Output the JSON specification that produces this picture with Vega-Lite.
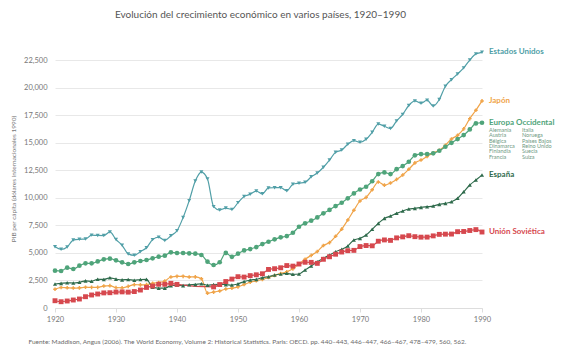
{
"$schema": "https://vega.github.io/schema/vega-lite/v6.json",
"width": 427, "height": 259,
"autosize": {"type": "none"},
"padding": {"left": 55, "top": 49, "right": 80, "bottom": 44},
"background": "white",
"config": {"view": {"stroke": null}, "font": "Lato"},
"title": {"text": "Evolución del crecimiento económico en varios países, 1920–1990", "fontSize": 10, "fontWeight": "normal", "color": "#555555", "offset": 28, "dx": -8, "font": "Lato"},
"datasets": {
"names": [{"c": "US", "name": "Estados Unidos"}, {"c": "JP", "name": "Japón"}, {"c": "EU", "name": "Europa Occidental"}, {"c": "ES", "name": "España"}, {"c": "SU", "name": "Unión Soviética"}],
"gdp": [
{"c":"US","t":1920,"v":5552},{"c":"US","t":1921,"v":5323},{"c":"US","t":1922,"v":5540},{"c":"US","t":1923,"v":6164},{"c":"US","t":1924,"v":6233},{"c":"US","t":1925,"v":6252},{"c":"US","t":1926,"v":6612},{"c":"US","t":1927,"v":6581},{"c":"US","t":1928,"v":6570},{"c":"US","t":1929,"v":6899},
{"c":"US","t":1930,"v":6213},{"c":"US","t":1931,"v":5691},{"c":"US","t":1932,"v":4908},{"c":"US","t":1933,"v":4777},{"c":"US","t":1934,"v":5114},{"c":"US","t":1935,"v":5467},{"c":"US","t":1936,"v":6204},{"c":"US","t":1937,"v":6430},{"c":"US","t":1938,"v":6126},{"c":"US","t":1939,"v":6561},
{"c":"US","t":1940,"v":7010},{"c":"US","t":1941,"v":8206},{"c":"US","t":1942,"v":9741},{"c":"US","t":1943,"v":11518},{"c":"US","t":1944,"v":12333},{"c":"US","t":1945,"v":11709},{"c":"US","t":1946,"v":9197},{"c":"US","t":1947,"v":8886},{"c":"US","t":1948,"v":9065},{"c":"US","t":1949,"v":8944},
{"c":"US","t":1950,"v":9561},{"c":"US","t":1951,"v":10116},{"c":"US","t":1952,"v":10316},{"c":"US","t":1953,"v":10613},{"c":"US","t":1954,"v":10359},{"c":"US","t":1955,"v":10897},{"c":"US","t":1956,"v":10914},{"c":"US","t":1957,"v":10920},{"c":"US","t":1958,"v":10631},{"c":"US","t":1959,"v":11230},
{"c":"US","t":1960,"v":11328},{"c":"US","t":1961,"v":11402},{"c":"US","t":1962,"v":11905},{"c":"US","t":1963,"v":12242},{"c":"US","t":1964,"v":12773},{"c":"US","t":1965,"v":13419},{"c":"US","t":1966,"v":14134},{"c":"US","t":1967,"v":14330},{"c":"US","t":1968,"v":14863},{"c":"US","t":1969,"v":15179},
{"c":"US","t":1970,"v":15030},{"c":"US","t":1971,"v":15304},{"c":"US","t":1972,"v":15944},{"c":"US","t":1973,"v":16689},{"c":"US","t":1974,"v":16491},{"c":"US","t":1975,"v":16284},{"c":"US","t":1976,"v":16975},{"c":"US","t":1977,"v":17567},{"c":"US","t":1978,"v":18373},{"c":"US","t":1979,"v":18789},
{"c":"US","t":1980,"v":18577},{"c":"US","t":1981,"v":18856},{"c":"US","t":1982,"v":18325},{"c":"US","t":1983,"v":18920},{"c":"US","t":1984,"v":20123},{"c":"US","t":1985,"v":20717},{"c":"US","t":1986,"v":21236},{"c":"US","t":1987,"v":21788},{"c":"US","t":1988,"v":22499},{"c":"US","t":1989,"v":23059},{"c":"US","t":1990,"v":23201},
{"c":"JP","t":1920,"v":1696},{"c":"JP","t":1921,"v":1860},{"c":"JP","t":1922,"v":1831},{"c":"JP","t":1923,"v":1809},{"c":"JP","t":1924,"v":1829},{"c":"JP","t":1925,"v":1885},{"c":"JP","t":1926,"v":1872},{"c":"JP","t":1927,"v":1870},{"c":"JP","t":1928,"v":1991},{"c":"JP","t":1929,"v":2026},
{"c":"JP","t":1930,"v":1850},{"c":"JP","t":1931,"v":1837},{"c":"JP","t":1932,"v":1962},{"c":"JP","t":1933,"v":2122},{"c":"JP","t":1934,"v":2098},{"c":"JP","t":1935,"v":2120},{"c":"JP","t":1936,"v":2244},{"c":"JP","t":1937,"v":2315},{"c":"JP","t":1938,"v":2449},{"c":"JP","t":1939,"v":2816},
{"c":"JP","t":1940,"v":2874},{"c":"JP","t":1941,"v":2873},{"c":"JP","t":1942,"v":2818},{"c":"JP","t":1943,"v":2822},{"c":"JP","t":1944,"v":2659},{"c":"JP","t":1945,"v":1346},{"c":"JP","t":1946,"v":1444},{"c":"JP","t":1947,"v":1541},{"c":"JP","t":1948,"v":1725},{"c":"JP","t":1949,"v":1800},
{"c":"JP","t":1950,"v":1921},{"c":"JP","t":1951,"v":2126},{"c":"JP","t":1952,"v":2336},{"c":"JP","t":1953,"v":2474},{"c":"JP","t":1954,"v":2582},{"c":"JP","t":1955,"v":2771},{"c":"JP","t":1956,"v":2948},{"c":"JP","t":1957,"v":3136},{"c":"JP","t":1958,"v":3289},{"c":"JP","t":1959,"v":3554},
{"c":"JP","t":1960,"v":3986},{"c":"JP","t":1961,"v":4426},{"c":"JP","t":1962,"v":4777},{"c":"JP","t":1963,"v":5129},{"c":"JP","t":1964,"v":5668},{"c":"JP","t":1965,"v":5934},{"c":"JP","t":1966,"v":6506},{"c":"JP","t":1967,"v":7152},{"c":"JP","t":1968,"v":7983},{"c":"JP","t":1969,"v":8874},
{"c":"JP","t":1970,"v":9714},{"c":"JP","t":1971,"v":10040},{"c":"JP","t":1972,"v":10734},{"c":"JP","t":1973,"v":11434},{"c":"JP","t":1974,"v":11145},{"c":"JP","t":1975,"v":11344},{"c":"JP","t":1976,"v":11669},{"c":"JP","t":1977,"v":12064},{"c":"JP","t":1978,"v":12585},{"c":"JP","t":1979,"v":13163},
{"c":"JP","t":1980,"v":13428},{"c":"JP","t":1981,"v":13754},{"c":"JP","t":1982,"v":14078},{"c":"JP","t":1983,"v":14307},{"c":"JP","t":1984,"v":14773},{"c":"JP","t":1985,"v":15331},{"c":"JP","t":1986,"v":15679},{"c":"JP","t":1987,"v":16251},{"c":"JP","t":1988,"v":17185},{"c":"JP","t":1989,"v":17943},{"c":"JP","t":1990,"v":18789},
{"c":"EU","t":1920,"v":3385},{"c":"EU","t":1921,"v":3355},{"c":"EU","t":1922,"v":3660},{"c":"EU","t":1923,"v":3540},{"c":"EU","t":1924,"v":3840},{"c":"EU","t":1925,"v":4050},{"c":"EU","t":1926,"v":4050},{"c":"EU","t":1927,"v":4230},{"c":"EU","t":1928,"v":4415},{"c":"EU","t":1929,"v":4475},
{"c":"EU","t":1930,"v":4325},{"c":"EU","t":1931,"v":4140},{"c":"EU","t":1932,"v":3990},{"c":"EU","t":1933,"v":4140},{"c":"EU","t":1934,"v":4265},{"c":"EU","t":1935,"v":4355},{"c":"EU","t":1936,"v":4505},{"c":"EU","t":1937,"v":4655},{"c":"EU","t":1938,"v":4745},{"c":"EU","t":1939,"v":5050},
{"c":"EU","t":1940,"v":4990},{"c":"EU","t":1941,"v":4990},{"c":"EU","t":1942,"v":4960},{"c":"EU","t":1943,"v":4930},{"c":"EU","t":1944,"v":4810},{"c":"EU","t":1945,"v":4200},{"c":"EU","t":1946,"v":3900},{"c":"EU","t":1947,"v":4150},{"c":"EU","t":1948,"v":5000},{"c":"EU","t":1949,"v":4640},
{"c":"EU","t":1950,"v":4930},{"c":"EU","t":1951,"v":5220},{"c":"EU","t":1952,"v":5350},{"c":"EU","t":1953,"v":5530},{"c":"EU","t":1954,"v":5800},{"c":"EU","t":1955,"v":6010},{"c":"EU","t":1956,"v":6230},{"c":"EU","t":1957,"v":6410},{"c":"EU","t":1958,"v":6530},{"c":"EU","t":1959,"v":6830},
{"c":"EU","t":1960,"v":7370},{"c":"EU","t":1961,"v":7680},{"c":"EU","t":1962,"v":7920},{"c":"EU","t":1963,"v":8220},{"c":"EU","t":1964,"v":8590},{"c":"EU","t":1965,"v":8900},{"c":"EU","t":1966,"v":9250},{"c":"EU","t":1967,"v":9550},{"c":"EU","t":1968,"v":9950},{"c":"EU","t":1969,"v":10400},
{"c":"EU","t":1970,"v":10750},{"c":"EU","t":1971,"v":11000},{"c":"EU","t":1972,"v":11500},{"c":"EU","t":1973,"v":12150},{"c":"EU","t":1974,"v":12300},{"c":"EU","t":1975,"v":12150},{"c":"EU","t":1976,"v":12600},{"c":"EU","t":1977,"v":12880},{"c":"EU","t":1978,"v":13270},{"c":"EU","t":1979,"v":13850},
{"c":"EU","t":1980,"v":13970},{"c":"EU","t":1981,"v":13970},{"c":"EU","t":1982,"v":14030},{"c":"EU","t":1983,"v":14270},{"c":"EU","t":1984,"v":14630},{"c":"EU","t":1985,"v":14990},{"c":"EU","t":1986,"v":15330},{"c":"EU","t":1987,"v":15690},{"c":"EU","t":1988,"v":16200},{"c":"EU","t":1989,"v":16750},{"c":"EU","t":1990,"v":16810},
{"c":"ES","t":1920,"v":2177},{"c":"ES","t":1921,"v":2237},{"c":"ES","t":1922,"v":2285},{"c":"ES","t":1923,"v":2267},{"c":"ES","t":1924,"v":2334},{"c":"ES","t":1925,"v":2462},{"c":"ES","t":1926,"v":2420},{"c":"ES","t":1927,"v":2607},{"c":"ES","t":1928,"v":2591},{"c":"ES","t":1929,"v":2739},
{"c":"ES","t":1930,"v":2620},{"c":"ES","t":1931,"v":2554},{"c":"ES","t":1932,"v":2582},{"c":"ES","t":1933,"v":2510},{"c":"ES","t":1934,"v":2584},{"c":"ES","t":1935,"v":2600},{"c":"ES","t":1936,"v":1890},{"c":"ES","t":1937,"v":1800},{"c":"ES","t":1938,"v":1800},{"c":"ES","t":1939,"v":2030},
{"c":"ES","t":1940,"v":2080},{"c":"ES","t":1941,"v":2030},{"c":"ES","t":1942,"v":2110},{"c":"ES","t":1943,"v":2140},{"c":"ES","t":1944,"v":2200},{"c":"ES","t":1945,"v":2060},{"c":"ES","t":1946,"v":2120},{"c":"ES","t":1947,"v":2150},{"c":"ES","t":1948,"v":2120},{"c":"ES","t":1949,"v":2080},
{"c":"ES","t":1950,"v":2190},{"c":"ES","t":1951,"v":2400},{"c":"ES","t":1952,"v":2540},{"c":"ES","t":1953,"v":2600},{"c":"ES","t":1954,"v":2750},{"c":"ES","t":1955,"v":2840},{"c":"ES","t":1956,"v":2990},{"c":"ES","t":1957,"v":3085},{"c":"ES","t":1958,"v":3145},{"c":"ES","t":1959,"v":3055},
{"c":"ES","t":1960,"v":3085},{"c":"ES","t":1961,"v":3450},{"c":"ES","t":1962,"v":3810},{"c":"ES","t":1963,"v":4200},{"c":"ES","t":1964,"v":4505},{"c":"ES","t":1965,"v":4810},{"c":"ES","t":1966,"v":5110},{"c":"ES","t":1967,"v":5320},{"c":"ES","t":1968,"v":5625},{"c":"ES","t":1969,"v":6170},
{"c":"ES","t":1970,"v":6320},{"c":"ES","t":1971,"v":6620},{"c":"ES","t":1972,"v":7140},{"c":"ES","t":1973,"v":7680},{"c":"ES","t":1974,"v":8130},{"c":"ES","t":1975,"v":8345},{"c":"ES","t":1976,"v":8590},{"c":"ES","t":1977,"v":8800},{"c":"ES","t":1978,"v":8980},{"c":"ES","t":1979,"v":9040},
{"c":"ES","t":1980,"v":9130},{"c":"ES","t":1981,"v":9190},{"c":"ES","t":1982,"v":9250},{"c":"ES","t":1983,"v":9400},{"c":"ES","t":1984,"v":9490},{"c":"ES","t":1985,"v":9640},{"c":"ES","t":1986,"v":9950},{"c":"ES","t":1987,"v":10550},{"c":"ES","t":1988,"v":11160},{"c":"ES","t":1989,"v":11610},{"c":"ES","t":1990,"v":12060},
{"c":"SU","t":1920,"v":660},{"c":"SU","t":1921,"v":570},{"c":"SU","t":1922,"v":635},{"c":"SU","t":1923,"v":725},{"c":"SU","t":1924,"v":815},{"c":"SU","t":1925,"v":1025},{"c":"SU","t":1926,"v":1180},{"c":"SU","t":1927,"v":1270},{"c":"SU","t":1928,"v":1370},{"c":"SU","t":1929,"v":1386},
{"c":"SU","t":1930,"v":1448},{"c":"SU","t":1931,"v":1462},{"c":"SU","t":1932,"v":1439},{"c":"SU","t":1933,"v":1493},{"c":"SU","t":1934,"v":1630},{"c":"SU","t":1935,"v":1864},{"c":"SU","t":1936,"v":1991},{"c":"SU","t":1937,"v":2156},{"c":"SU","t":1938,"v":2150},{"c":"SU","t":1939,"v":2237},
{"c":"SU","t":1940,"v":2144},{"c":"SU","t":1946,"v":1913},{"c":"SU","t":1947,"v":2126},{"c":"SU","t":1948,"v":2402},{"c":"SU","t":1949,"v":2623},
{"c":"SU","t":1950,"v":2841},{"c":"SU","t":1951,"v":2806},{"c":"SU","t":1952,"v":2937},{"c":"SU","t":1953,"v":3013},{"c":"SU","t":1954,"v":3106},{"c":"SU","t":1955,"v":3500},{"c":"SU","t":1956,"v":3566},{"c":"SU","t":1957,"v":3650},{"c":"SU","t":1958,"v":3850},{"c":"SU","t":1959,"v":3800},
{"c":"SU","t":1960,"v":3990},{"c":"SU","t":1961,"v":4150},{"c":"SU","t":1962,"v":4140},{"c":"SU","t":1963,"v":4050},{"c":"SU","t":1964,"v":4420},{"c":"SU","t":1965,"v":4650},{"c":"SU","t":1966,"v":4880},{"c":"SU","t":1967,"v":5080},{"c":"SU","t":1968,"v":5200},{"c":"SU","t":1969,"v":5230},
{"c":"SU","t":1970,"v":5575},{"c":"SU","t":1971,"v":5667},{"c":"SU","t":1972,"v":5643},{"c":"SU","t":1973,"v":6059},{"c":"SU","t":1974,"v":6176},{"c":"SU","t":1975,"v":6136},{"c":"SU","t":1976,"v":6363},{"c":"SU","t":1977,"v":6454},{"c":"SU","t":1978,"v":6559},{"c":"SU","t":1979,"v":6472},
{"c":"SU","t":1980,"v":6427},{"c":"SU","t":1981,"v":6432},{"c":"SU","t":1982,"v":6544},{"c":"SU","t":1983,"v":6681},{"c":"SU","t":1984,"v":6700},{"c":"SU","t":1985,"v":6708},{"c":"SU","t":1986,"v":6924},{"c":"SU","t":1987,"v":6943},{"c":"SU","t":1988,"v":7032},{"c":"SU","t":1989,"v":7112},{"c":"SU","t":1990,"v":6894}
]
},
"data": {"name": "gdp"},
"encoding": {
 "x": {"field": "t", "type": "quantitative", "scale": {"domain": [1920, 1990], "nice": false, "zero": false},
  "axis": {"values": [1920,1930,1940,1950,1960,1970,1980,1990], "format": "d", "labelFlush": false, "grid": false, "domainColor": "#dddddd", "tickColor": "#dddddd", "tickSize": 4, "labelColor": "#777777", "labelFontSize": 7.5, "labelPadding": 3,
   "title": "Fuente: Maddison, Angus (2006). The World Economy, Volume 2: Historical Statistics. Paris: OECD. pp. 440–443, 446–447, 466–467, 478–479, 560, 562.",
   "titleFontSize": 6.5, "titleFontWeight": "normal", "titleColor": "#6a6a6a", "titleAnchor": "start", "titleAlign": "left", "titleBaseline": "middle", "titleX": -27, "titleY": 33}},
 "y": {"field": "v", "type": "quantitative", "scale": {"domain": [0, 23500], "nice": false},
  "axis": {"values": [0,2500,5000,7500,10000,12500,15000,17500,20000,22500], "format": ",.0f", "grid": true, "gridColor": "#e8e8e8", "domain": false, "ticks": false, "labelColor": "#777777", "labelFontSize": 7.5, "labelPadding": 8,
   "title": "PIB per cápita (dólares internacionales 1990)", "titleFontSize": 6.5, "titleFontWeight": "normal", "titleColor": "#777777", "titlePadding": 7}},
 "color": {"field": "c", "type": "nominal", "scale": {"domain": ["US","JP","EU","ES","SU"], "range": ["#519fa7","#f0a449","#4fa47a","#2f6b4c","#d6484e"]}, "legend": null}
},
"layer": [
 {"mark": {"type": "line", "strokeWidth": 1.2, "interpolate": "monotone"}},
 {"mark": {"type": "point", "filled": true, "opacity": 1},
  "encoding": {
   "shape": {"field": "c", "type": "nominal", "scale": {"domain": ["US","JP","EU","ES","SU"], "range": ["triangle-down","cross","circle","triangle-up","square"]}, "legend": null},
   "size": {"field": "c", "type": "nominal", "scale": {"type": "ordinal", "domain": ["US","JP","EU","ES","SU"], "range": [16,13,22,17,24]}, "legend": null}}},
 {"transform": [{"filter": "datum.t == 1990"}, {"lookup": "c", "from": {"data": {"name": "names"}, "key": "c", "fields": ["name"]}}],
  "mark": {"type": "text", "align": "left", "baseline": "middle", "dx": 7, "fontSize": 8, "fontWeight": "bold"},
  "encoding": {"text": {"field": "name", "type": "nominal"}}},
 {"transform": [{"filter": "datum.t == 1990 && datum.c == 'EU'"}],
  "mark": {"type": "text", "align": "left", "baseline": "top", "dx": 7, "dy": 5, "fontSize": 5.5, "lineHeight": 5.4, "text": ["Alemania","Austria","Bélgica","Dinamarca","Finlandia","Francia"]},
  "encoding": {"color": {"value": "#6f9a84"}}},
 {"transform": [{"filter": "datum.t == 1990 && datum.c == 'EU'"}],
  "mark": {"type": "text", "align": "left", "baseline": "top", "dx": 40, "dy": 5, "fontSize": 5.5, "lineHeight": 5.4, "text": ["Italia","Noruega","Países Bajos","Reino Unido","Suecia","Suiza"]},
  "encoding": {"color": {"value": "#6f9a84"}}}
]
}
